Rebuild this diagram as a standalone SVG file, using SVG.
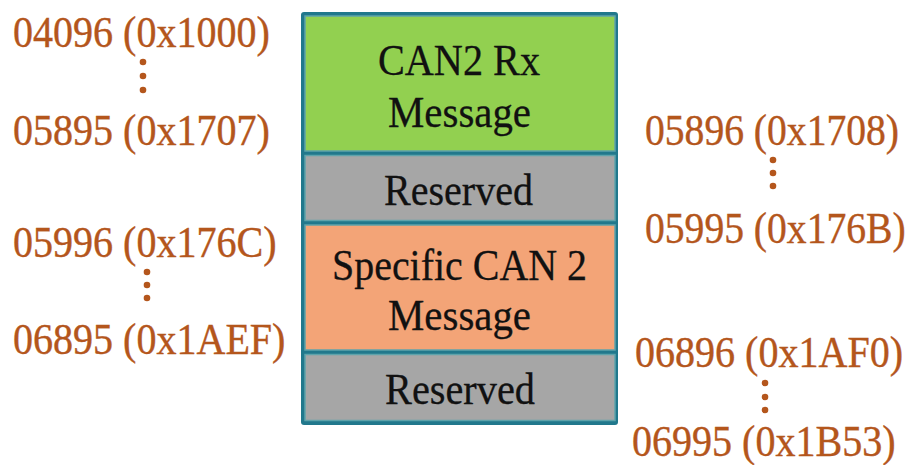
<svg xmlns="http://www.w3.org/2000/svg" width="915" height="465" viewBox="0 0 915 465">
  <style>
    .box { stroke: #5ea3ab; stroke-width: 1.5; }
    .lbl { font-family: "Liberation Serif", "Times New Roman", serif; font-size: 44px; fill: #111; stroke: #111; stroke-width: 0.3; text-anchor: middle; }
    .addr { font-family: "Liberation Serif", "Times New Roman", serif; font-size: 45px; fill: #b4561c; stroke: #b4561c; stroke-width: 0.4; }
    .dot { fill: #b4561c; }
  </style>
  <rect width="915" height="465" fill="#ffffff"/>
  <g id="frame">
    <rect x="301" y="12" width="317" height="413" rx="3" fill="#21788c"/>
  </g>
  <g id="can2-rx">
    <rect class="box" x="305" y="16" width="310" height="135" fill="#92d050"/>
    <text class="lbl" x="459" y="75" textLength="162" lengthAdjust="spacingAndGlyphs">CAN2 Rx</text>
    <text class="lbl" x="459.5" y="127" textLength="143" lengthAdjust="spacingAndGlyphs">Message</text>
  </g>
  <g id="reserved-1">
    <rect class="box" x="305" y="155.5" width="310" height="65" fill="#a6a6a6"/>
    <text class="lbl" x="458.5" y="205" textLength="149" lengthAdjust="spacingAndGlyphs">Reserved</text>
  </g>
  <g id="specific-can2">
    <rect class="box" x="305" y="225" width="310" height="125" fill="#f3a477"/>
    <text class="lbl" x="459.5" y="280" textLength="255" lengthAdjust="spacingAndGlyphs">Specific CAN 2</text>
    <text class="lbl" x="459.5" y="330" textLength="143" lengthAdjust="spacingAndGlyphs">Message</text>
  </g>
  <g id="reserved-2">
    <rect class="box" x="305" y="354.5" width="310" height="66" fill="#a6a6a6"/>
    <text class="lbl" x="460" y="404" textLength="150" lengthAdjust="spacingAndGlyphs">Reserved</text>
  </g>
  <g id="addr-left-1">
    <text class="addr" transform="translate(13,47) scale(0.89,1)">04096 (0x1000)</text>
    <circle class="dot" cx="143" cy="62" r="3.3"/>
    <circle class="dot" cx="143" cy="76" r="3.3"/>
    <circle class="dot" cx="143" cy="90" r="3.3"/>
    <text class="addr" transform="translate(13,145) scale(0.89,1)">05895 (0x1707)</text>
  </g>
  <g id="addr-left-2">
    <text class="addr" transform="translate(13,257) scale(0.89,1)">05996 (0x176C)</text>
    <circle class="dot" cx="147" cy="272" r="3.3"/>
    <circle class="dot" cx="147" cy="285" r="3.3"/>
    <circle class="dot" cx="147" cy="298" r="3.3"/>
    <text class="addr" transform="translate(13,354) scale(0.89,1)">06895 (0x1AEF)</text>
  </g>
  <g id="addr-right-1">
    <text class="addr" transform="translate(645,145) scale(0.88,1)">05896 (0x1708)</text>
    <circle class="dot" cx="773" cy="160" r="3.3"/>
    <circle class="dot" cx="773" cy="173" r="3.3"/>
    <circle class="dot" cx="773" cy="186" r="3.3"/>
    <text class="addr" transform="translate(645,243) scale(0.88,1)">05995 (0x176B)</text>
  </g>
  <g id="addr-right-2">
    <text class="addr" transform="translate(635,367) scale(0.89,1)">06896 (0x1AF0)</text>
    <circle class="dot" cx="765" cy="383" r="3.3"/>
    <circle class="dot" cx="765" cy="397" r="3.3"/>
    <circle class="dot" cx="765" cy="410" r="3.3"/>
    <text class="addr" transform="translate(632,456) scale(0.89,1)">06995 (0x1B53)</text>
  </g>
  <g id="connectors"/>
</svg>
